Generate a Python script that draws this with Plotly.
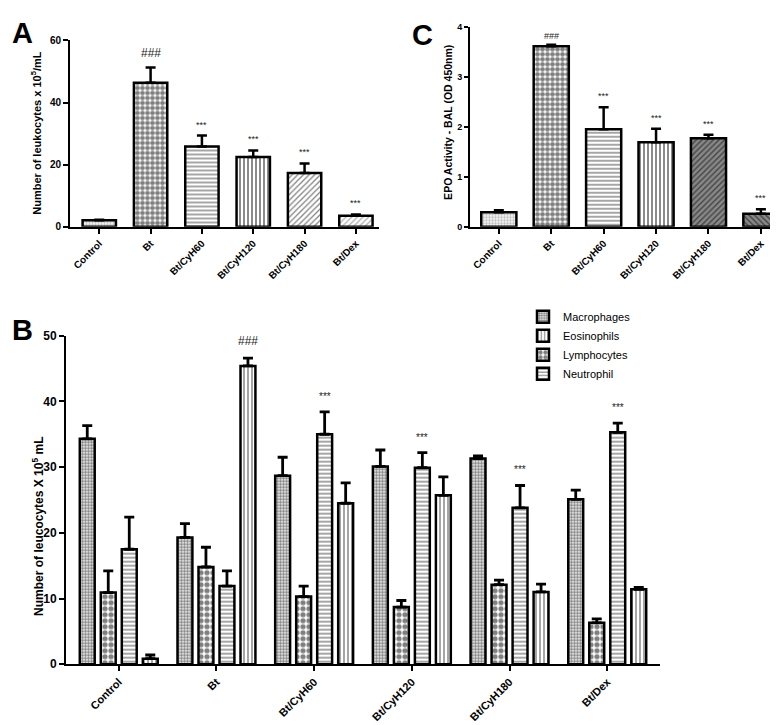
import plotly.graph_objects as go

W, H = 778, 725

groups = ["Control", "Bt", "Bt/CyH60", "Bt/CyH120", "Bt/CyH180", "Bt/Dex"]

# Panel A - total leukocytes
a_mean = [2.1, 46.4, 25.9, 22.5, 17.3, 3.6]
a_sem = [0.2, 4.9, 3.5, 2.1, 3.1, 0.4]
a_sig = ["", "###", "***", "***", "***", "***"]

# Panel C - EPO activity
c_mean = [0.29, 3.61, 1.95, 1.69, 1.77, 0.26]
c_sem = [0.04, 0.03, 0.44, 0.27, 0.07, 0.09]
c_sig = ["", "###", "***", "***", "***", "***"]

# Panel B - differential counts
b_series = ["Macrophages", "Lymphocytes", "Neutrophil", "Eosinophils"]
b_legend_rank = [1, 3, 4, 2]
b_mac = [34.3, 19.3, 28.7, 30.1, 31.3, 25.1]
b_mac_sem = [2.0, 2.1, 2.8, 2.5, 0.4, 1.4]
b_lym = [10.9, 14.8, 10.3, 8.7, 12.1, 6.3]
b_lym_sem = [3.3, 3.0, 1.6, 1.0, 0.7, 0.6]
b_neu = [17.5, 11.9, 35.0, 29.9, 23.8, 35.3]
b_neu_sem = [4.9, 2.3, 3.4, 2.3, 3.4, 1.4]
b_eos = [0.85, 45.4, 24.5, 25.7, 11.0, 11.4]
b_eos_sem = [0.55, 1.2, 3.1, 2.8, 1.2, 0.3]
b_sig_series = [3, 3, 2, 2, 2, 2]  # which bar of the group carries the marker
b_sig = ["", "###", "***", "***", "***", "***"]

FONT = "Liberation Sans, Arial, sans-serif"


def px_x(p):
    return p / W


def px_y(p):
    return 1 - p / H


fig = go.Figure()

# ---- Panel A ----
a_shapes = [".", ".", "-", "|", "/", "/"]
a_fg = ["#777777", "black", "black", "black", "black", "#555555"]
a_size = [3, 5, 4, 4, 4, 4]
a_sol = [0.5, 0.7, 0.35, 0.45, 0.3, 0.3]
fig.add_trace(go.Bar(
    x=groups, y=a_mean, width=0.65, xaxis="x", yaxis="y", showlegend=False,
    marker=dict(color="white", line=dict(color="black", width=2.5),
                pattern=dict(shape=a_shapes, fgcolor=a_fg, bgcolor="white",
                             size=a_size, solidity=a_sol, fillmode="overlay")),
    error_y=dict(type="data", symmetric=False, array=a_sem, arrayminus=[0] * 6,
                 color="black", thickness=2.5, width=5),
))

# ---- Panel C ----
c_shapes = [".", ".", "-", "|", "/", "\\"]
c_fg = ["#777777", "black", "black", "black", "black", "black"]
c_bg = ["white", "white", "white", "white", "#888888", "#888888"]
c_size = [3, 5, 4, 4, 4, 4]
c_sol = [0.5, 0.7, 0.35, 0.45, 0.35, 0.35]
fig.add_trace(go.Bar(
    x=groups, y=c_mean, width=0.67, xaxis="x3", yaxis="y3", showlegend=False,
    marker=dict(color="white", line=dict(color="black", width=2.5),
                pattern=dict(shape=c_shapes, fgcolor=c_fg, bgcolor=c_bg,
                             size=c_size, solidity=c_sol, fillmode="overlay")),
    error_y=dict(type="data", symmetric=False, array=c_sem, arrayminus=[0] * 6,
                 color="black", thickness=2.5, width=5),
))

# ---- Panel B ----
b_vals = [b_mac, b_lym, b_neu, b_eos]
b_sems = [b_mac_sem, b_lym_sem, b_neu_sem, b_eos_sem]
b_shape = [".", ".", "-", "|"]
b_size = [3, 6, 4, 4]
b_sol = [0.65, 0.6, 0.35, 0.35]
for i, name in enumerate(b_series):
    fig.add_trace(go.Bar(
        name=name, x=groups, y=b_vals[i], xaxis="x2", yaxis="y2",
        legendrank=b_legend_rank[i],
        marker=dict(color="white", line=dict(color="black", width=2.5),
                    pattern=dict(shape=b_shape[i], fgcolor="black", bgcolor="white",
                                 size=b_size[i], solidity=b_sol[i], fillmode="overlay")),
        error_y=dict(type="data", symmetric=False, array=b_sems[i], arrayminus=[0] * 6,
                     color="black", thickness=2.8, width=5),
    ))

axis_common = dict(showgrid=False, zeroline=False, showline=True, linecolor="black",
                   linewidth=2, ticks="outside", tickwidth=2, tickcolor="black")
tickfont_small = dict(family=FONT, size=10, color="black", weight="bold")
tickfont_c = dict(family=FONT, size=9, color="black", weight="bold")
tickfont_big = dict(family=FONT, size=12, color="black", weight="bold")
tickfont_bx = dict(family=FONT, size=11, color="black", weight="bold")

fig.update_layout(
    width=W, height=H, margin=dict(l=0, r=0, t=0, b=0),
    paper_bgcolor="white", plot_bgcolor="white",
    barmode="group", bargap=0.14, bargroupgap=0.29,
    font=dict(family=FONT, color="black"),
    xaxis=dict(domain=[px_x(62), px_x(371)], anchor="y", range=[-0.57, 5.45], ticklen=5,
               tickangle=-45, tickfont=tickfont_small, **axis_common),
    yaxis=dict(domain=[px_y(216), px_y(26)], anchor="x", range=[0, 60], ticklen=5,
               tickvals=[0, 20, 40, 60], tickfont=tickfont_small, **axis_common),
    xaxis3=dict(domain=[px_x(462), px_x(777)], anchor="y3", range=[-0.55, 5.46], ticklen=5,
                tickangle=-45, tickfont=tickfont_small, **axis_common),
    yaxis3=dict(domain=[px_y(216), px_y(12)], anchor="x3", range=[0, 4], ticklen=4,
                tickvals=[0, 1, 2, 3, 4], tickfont=tickfont_c, **axis_common),
    xaxis2=dict(domain=[px_x(58), px_x(652)], anchor="y2", range=[-0.54, 5.54], ticklen=5,
                tickangle=-45, tickfont=tickfont_bx, **axis_common),
    yaxis2=dict(domain=[px_y(662), px_y(327)], anchor="x2", range=[0, 50], ticklen=5,
                tickvals=[0, 10, 20, 30, 40, 50], tickfont=tickfont_big, **axis_common),
    legend=dict(x=px_x(515), y=px_y(293), xanchor="left", yanchor="top",
                font=dict(family=FONT, size=11, color="black"),
                bgcolor="rgba(0,0,0,0)", itemwidth=30, tracegroupgap=0),
)

ann = []
# panel letters
for letter, lx, ly in [("A", 2, 0), ("C", 402, 2), ("B", 2, 303)]:
    ann.append(dict(text="<b>%s</b>" % letter, x=px_x(lx), y=px_y(ly), xref="paper", yref="paper",
                    xanchor="left", yanchor="top", showarrow=False,
                    font=dict(family=FONT, size=29, color="black")))
# axis titles
for txt, tx, ty, fs in [
    ("<b>Number of leukocytes x 10<sup>5</sup>/mL</b>", 28, 120, 11),
    ("<b>EPO Activity - BAL (OD 450nm)</b>", 440, 110, 10.5),
    ("<b>Number of leucocytes X 10<sup>5</sup> mL</b>", 30, 522, 12),
]:
    ann.append(dict(text=txt, x=px_x(tx), y=px_y(ty), xref="paper", yref="paper",
                    xanchor="center", yanchor="middle", textangle=-90, showarrow=False,
                    font=dict(family=FONT, size=fs, color="black")))
# significance markers A
for g, m, s, t in zip(groups, a_mean, a_sem, a_sig):
    if t:
        ann.append(dict(text=t, x=g, y=m + s, xref="x", yref="y", yanchor="bottom",
                        yshift=4 if t == "***" else 6, showarrow=False,
                        font=dict(family=FONT, size=9 if t == "***" else 12, color="#222")))
# significance markers C
for g, m, s, t in zip(groups, c_mean, c_sem, c_sig):
    if t:
        ann.append(dict(text=t, x=g, y=m + s, xref="x3", yref="y3", yanchor="bottom",
                        yshift=4 if t == "***" else 2, showarrow=False,
                        font=dict(family=FONT, size=9, color="#222")))
# significance markers B
slot = (1 - 0.14) / 4
for gi, (si, t) in enumerate(zip(b_sig_series, b_sig)):
    if t:
        xpos = gi - (1 - 0.14) / 2 + slot * (si + 0.5)
        top = b_vals[si][gi] + b_sems[si][gi]
        ann.append(dict(text=t, x=xpos, y=top, xref="x2", yref="y2", yanchor="bottom",
                        yshift=8, showarrow=False,
                        font=dict(family=FONT, size=10 if t == "***" else 12, color="#222")))

fig.update_layout(annotations=ann)
fig.write_html("out.html")
